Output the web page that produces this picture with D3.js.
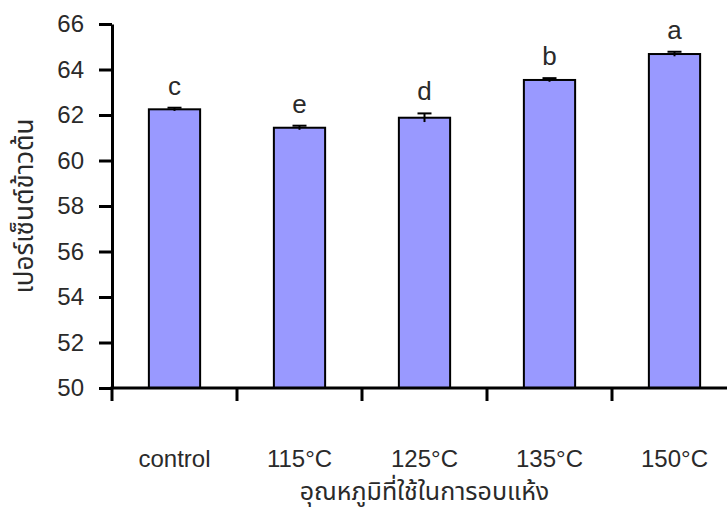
<!DOCTYPE html>
<html>
<head>
<meta charset="utf-8">
<script src="https://cdn.jsdelivr.net/npm/d3@7"></script>
<style>
  html, body { margin: 0; padding: 0; background: #fff; }
  svg { display: block; }
  text { font-family: "Liberation Sans", Arial, sans-serif; fill: #2a2a2a; }
  .thai { font-family: "Noto Sans Thai", "Noto Sans", "DejaVu Sans", sans-serif; }
</style>
</head>
<body>
<svg id="chart" width="727" height="513"></svg>
<script>
// Drying temperature treatments
const categories = ["control", "115°C", "125°C", "135°C", "150°C"];
// Head rice yield (%) means
const means = [62.25, 61.44, 61.88, 63.54, 64.68];
// Standard deviations
const errors = [0.07, 0.09, 0.19, 0.08, 0.10];
// Significance letters (DMRT)
const letters = ["c", "e", "d", "b", "a"];
// Y axis ticks
const yTicks = [50, 52, 54, 56, 58, 60, 62, 64, 66];

const svg = d3.select("#chart");
const margin = { left: 112, top: 24, right: -10, bottom: 125 };
const W = 727, H = 513;

const x = d3.scaleBand()
  .domain(categories)
  .range([margin.left, W - margin.right])
  .padding(0);

const y = d3.scaleLinear()
  .domain([50, 66])
  .range([H - margin.bottom, margin.top]);

const barW = x.bandwidth() * 0.41;
const y0 = y(50);

// Bars
svg.append("g").selectAll("rect")
  .data(categories)
  .join("rect")
  .attr("x", (d) => x(d) + x.bandwidth() / 2 - barW / 2)
  .attr("y", (d, i) => y(means[i]))
  .attr("width", barW)
  .attr("height", (d, i) => y0 - y(means[i]))
  .attr("fill", "#9999ff")
  .attr("stroke", "#000")
  .attr("stroke-width", 2);

// Error bars
const eb = svg.append("g").attr("stroke", "#000").attr("stroke-width", 2);
categories.forEach((c, i) => {
  const cx = x(c) + x.bandwidth() / 2;
  eb.append("line")
    .attr("x1", cx).attr("x2", cx)
    .attr("y1", y(means[i] - errors[i])).attr("y2", y(means[i] + errors[i]));
  eb.append("line")
    .attr("x1", cx - 7).attr("x2", cx + 7)
    .attr("y1", y(means[i] + errors[i])).attr("y2", y(means[i] + errors[i]));
});

// Letters above bars
svg.append("g").selectAll("text")
  .data(categories)
  .join("text")
  .attr("x", (d) => x(d) + x.bandwidth() / 2)
  .attr("y", (d, i) => y(means[i] + errors[i]) - 13)
  .attr("text-anchor", "middle")
  .attr("font-size", 26)
  .text((d, i) => letters[i]);

// Y axis
const yAxis = svg.append("g")
  .attr("transform", `translate(${margin.left},0)`)
  .call(d3.axisLeft(y).tickValues(yTicks).tickSize(13).tickSizeOuter(0).tickPadding(15));
yAxis.select(".domain").attr("stroke", "#000").attr("stroke-width", 3);
yAxis.selectAll(".tick line").attr("stroke", "#000").attr("stroke-width", 3);
yAxis.selectAll(".tick text")
  .attr("font-size", 24)
  .attr("font-family", "'Liberation Sans', Arial, sans-serif")
  .attr("fill", "#2a2a2a");

// X axis baseline with ticks on category boundaries
const xa = svg.append("g").attr("stroke", "#000").attr("stroke-width", 3);
xa.append("line")
  .attr("x1", margin.left - 1.5).attr("x2", W)
  .attr("y1", y0).attr("y2", y0);
const bounds = categories.map((c) => x(c)).concat([x.range()[1]]);
xa.selectAll("line.tk")
  .data(bounds)
  .join("line")
  .attr("class", "tk")
  .attr("x1", (d) => d).attr("x2", (d) => d)
  .attr("y1", y0).attr("y2", y0 + 13);

// Category labels
svg.append("g").selectAll("text")
  .data(categories)
  .join("text")
  .attr("x", (d) => x(d) + x.bandwidth() / 2)
  .attr("y", 467)
  .attr("text-anchor", "middle")
  .attr("font-size", 24)
  .text((d) => d);

// Axis titles
svg.append("text")
  .attr("class", "thai")
  .attr("x", (margin.left + x.range()[1]) / 2)
  .attr("y", 500)
  .attr("text-anchor", "middle")
  .attr("font-size", 25)
  .text("อุณหภูมิที่ใช้ในการอบแห้ง");

svg.append("text")
  .attr("class", "thai")
  .attr("transform", `translate(33,${(y(50) + y(66)) / 2}) rotate(-90)`)
  .attr("text-anchor", "middle")
  .attr("font-size", 26)
  .text("เปอร์เซ็นต์ข้าวต้น");
</script>
</body>
</html>
